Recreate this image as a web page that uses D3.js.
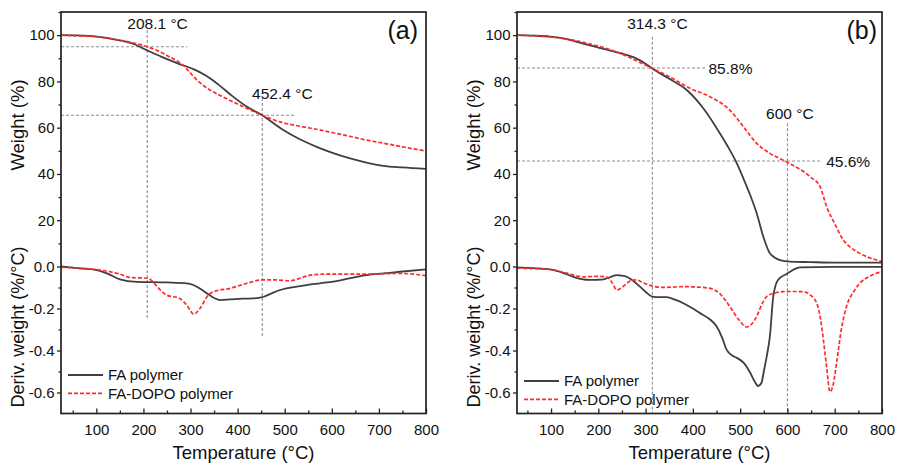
<!DOCTYPE html>
<html>
<head>
<meta charset="utf-8">
<script src="https://cdn.jsdelivr.net/npm/d3@7"></script>
<style>
  body { margin: 0; background: #fff; }
  svg text { font-family: "Liberation Sans", Arial, sans-serif; fill: #111; }
</style>
</head>
<body>
<div id="chart"></div>
<script>
// ---- data: [temperature °C, value] ----
var faWeightA = [[25,100],[60,99.9],[101,99.4],[144,98],[175,96.5],[206,93.6],[240,90.5],[278,87.4],[310,85],[335,82.2],[360,78.5],[391,73.3],[420,69],[452,65.4],[497,59],[530,55.2],[568,51.7],[600,49.2],[639,46.7],[680,44.6],[709,43.5],[750,42.8],[800,42.2]];
var dopoWeightA = [[25,100],[60,99.7],[108,99.1],[150,97.8],[180,96.6],[208,95],[230,93.3],[250,91.2],[268,89.2],[282,87.4],[298,84],[314,80.5],[330,77.8],[349,75.4],[370,73.2],[391,71.1],[420,68.3],[452,65.4],[490,62.5],[533,60.6],[570,59.2],[603,57.8],[640,56.2],[674,54.6],[710,53.3],[750,51.7],[800,49.9]];
var faDerivA = [[25,0],[60,-0.008],[101,-0.017],[125,-0.035],[150,-0.061],[186,-0.073],[250,-0.076],[292,-0.08],[306,-0.088],[320,-0.105],[335,-0.128],[350,-0.15],[363,-0.16],[384,-0.157],[410,-0.153],[434,-0.152],[455,-0.144],[470,-0.13],[490,-0.112],[533,-0.093],[575,-0.08],[603,-0.072],[640,-0.055],[674,-0.041],[710,-0.033],[745,-0.025],[800,-0.014]];
var dopoDerivA = [[25,-0.003],[60,-0.008],[108,-0.017],[140,-0.03],[150,-0.036],[171,-0.052],[210,-0.056],[220,-0.073],[235,-0.11],[249,-0.136],[277,-0.152],[292,-0.184],[307,-0.227],[320,-0.2],[335,-0.144],[349,-0.12],[384,-0.104],[420,-0.08],[451,-0.064],[480,-0.064],[511,-0.068],[530,-0.058],[547,-0.045],[575,-0.037],[603,-0.036],[674,-0.036],[745,-0.033],[800,-0.044]];

var faWeightB = [[28,100],[60,99.8],[98,99.4],[133,98.3],[168,96.3],[218,93.7],[245,92.3],[274,90.5],[295,88.3],[314,85.6],[352,80.9],[387,76.3],[422,68.4],[457,57.6],[478,50.4],[493,44.6],[507,38],[521,31],[535,23],[549,12.9],[563,5.7],[584,2.8],[605,2.1],[647,1.9],[700,1.7],[800,1.7]];
var dopoWeightB = [[28,100],[80,99.5],[133,98.4],[180,96.3],[239,92.7],[280,89],[314,85.6],[351,82],[394,77],[436,73.4],[478,67.6],[507,60.4],[535,53.2],[563,48.9],[600,45],[648,38.8],[669,34.5],[683,25.8],[700,18.5],[718,11.5],[732,8.5],[750,6],[767,4.3],[785,3],[800,2.2]];
var faDerivB = [[28,-0.004],[60,-0.008],[98,-0.014],[125,-0.03],[147,-0.049],[165,-0.06],[182,-0.064],[200,-0.063],[211,-0.061],[225,-0.05],[239,-0.041],[250,-0.043],[260,-0.049],[275,-0.07],[288,-0.096],[300,-0.12],[314,-0.143],[330,-0.146],[345,-0.146],[362,-0.158],[380,-0.175],[398,-0.198],[415,-0.222],[435,-0.25],[450,-0.285],[462,-0.34],[471,-0.395],[484,-0.425],[493,-0.435],[507,-0.458],[521,-0.505],[530,-0.545],[538,-0.569],[545,-0.555],[550,-0.5],[556,-0.43],[563,-0.33],[570,-0.143],[580,-0.064],[600,-0.033],[613,-0.015],[626,-0.004],[700,-0.002],[800,-0.002]];
var dopoDerivB = [[28,-0.008],[60,-0.01],[98,-0.014],[130,-0.03],[168,-0.049],[200,-0.047],[218,-0.05],[230,-0.08],[239,-0.112],[250,-0.1],[260,-0.08],[270,-0.066],[281,-0.064],[295,-0.078],[314,-0.093],[330,-0.099],[345,-0.099],[380,-0.096],[410,-0.098],[436,-0.104],[455,-0.125],[478,-0.19],[496,-0.25],[514,-0.288],[524,-0.275],[535,-0.238],[546,-0.18],[556,-0.143],[575,-0.125],[591,-0.12],[612,-0.119],[633,-0.12],[648,-0.135],[662,-0.175],[670,-0.25],[676,-0.348],[683,-0.48],[690,-0.597],[697,-0.56],[704,-0.458],[714,-0.3],[725,-0.19],[740,-0.12],[753,-0.08],[775,-0.045],[800,-0.025]];

var xTicks = [100, 200, 300, 400, 500, 600, 700, 800];
var xMinor = [50, 150, 250, 350, 450, 550, 650, 750];
var weightTicks = [20, 40, 60, 80, 100];
var weightMinor = [10, 30, 50, 70, 90, 110];
var derivTicks = [0, -0.2, -0.4, -0.6];
var derivMinor = [-0.1, -0.3, -0.5];
var seriesNames = ["FA polymer", "FA-DOPO polymer"];

// annotation guides, in data units
var guidesA = [
  { type: "v", t: 208.1, wTop: 102.2, dBottom: -0.246 },
  { type: "v", t: 452.4, wTop: 72.8, dBottom: -0.335 },
  { type: "h", w: 95, tEnd: 293 },
  { type: "h", w: 65.4, tEnd: 522 }
];
var labelsA = [
  { text: "208.1 °C", t: 230, w: 102.5, anchor: "middle" },
  { text: "452.4 °C", t: 495, w: 72.6, anchor: "middle" }
];
var guidesB = [
  { type: "v", t: 314.3, wTop: 99.3, dBottom: -0.7 },
  { type: "v", t: 600, wTop: 61.9, dBottom: -0.7 },
  { type: "h", w: 85.8, tEnd: 429 },
  { type: "h", w: 45.6, tEnd: 672 }
];
var labelsB = [
  { text: "314.3 °C", t: 325, w: 102.5, anchor: "middle" },
  { text: "85.8%", t: 433, w: 83.2, anchor: "start" },
  { text: "600 °C", t: 605, w: 63.7, anchor: "middle" },
  { text: "45.6%", t: 682, w: 43.1, anchor: "start" }
];

var svg = d3.select("#chart").append("svg")
  .attr("width", 901)
  .attr("height", 466);

var frameTop = 12, zeroY = 266.5, frameBottom = 413.5;

function drawPanel(p) {
  var g = svg.append("g");

  var xScale = d3.scaleLinear().domain(p.xDomain).range([p.left, p.right]);
  var yW = d3.scaleLinear().domain([0, 110]).range([zeroY, frameTop]);
  var yD = d3.scaleLinear().domain([-0.7, 0]).range([frameBottom, zeroY]);

  // guides
  p.guides.forEach(function (d) {
    var l = g.append("line")
      .attr("stroke", "#8f8f8f")
      .attr("stroke-width", 1.1)
      .attr("stroke-dasharray", "3,2");
    if (d.type == "v") {
      l.attr("x1", xScale(d.t)).attr("x2", xScale(d.t))
        .attr("y1", yW(d.wTop)).attr("y2", yD(d.dBottom));
    } else {
      l.attr("x1", p.left).attr("x2", xScale(d.tEnd))
        .attr("y1", yW(d.w)).attr("y2", yW(d.w));
    }
  });

  var lineW = d3.line()
    .x(function (d) { return xScale(d[0]); })
    .y(function (d) { return yW(d[1]); })
    .curve(d3.curveMonotoneX);
  var lineD = d3.line()
    .x(function (d) { return xScale(d[0]); })
    .y(function (d) { return yD(d[1]); })
    .curve(d3.curveMonotoneX);

  function addPath(data, line, red) {
    g.append("path")
      .datum(data)
      .attr("fill", "none")
      .attr("stroke", red ? "#ff2b2b" : "#3f3f3f")
      .attr("stroke-width", red ? 1.7 : 1.8)
      .attr("stroke-dasharray", red ? "4,2" : null)
      .attr("stroke-linejoin", "round")
      .attr("d", line);
  }
  addPath(p.faW, lineW, false);
  addPath(p.faD, lineD, false);
  addPath(p.dopoW, lineW, true);
  addPath(p.dopoD, lineD, true);

  // axes
  g.append("g")
    .attr("transform", "translate(0," + frameBottom + ")")
    .call(d3.axisBottom(xScale).tickValues(xTicks).tickSize(-5).tickPadding(11).tickSizeOuter(0));
  g.append("g")
    .attr("transform", "translate(0," + frameBottom + ")")
    .call(d3.axisBottom(xScale).tickValues(xMinor).tickSize(-3).tickFormat("").tickSizeOuter(0));
  g.append("g")
    .attr("transform", "translate(" + p.left + ",0)")
    .call(d3.axisLeft(yW).tickValues(weightTicks).tickSize(4).tickPadding(2.5).tickSizeOuter(0));
  g.append("g")
    .attr("transform", "translate(" + p.left + ",0)")
    .call(d3.axisLeft(yW).tickValues(weightMinor).tickSize(2.5).tickFormat("").tickSizeOuter(0));
  g.append("g")
    .attr("transform", "translate(" + p.left + ",0)")
    .call(d3.axisLeft(yD).tickValues(derivTicks).tickSize(4).tickPadding(2.5).tickSizeOuter(0)
      .tickFormat(function (d) { return d.toFixed(1); }));
  g.append("g")
    .attr("transform", "translate(" + p.left + ",0)")
    .call(d3.axisLeft(yD).tickValues(derivMinor).tickSize(2.5).tickFormat("").tickSizeOuter(0));

  g.selectAll(".domain").remove();
  g.selectAll(".tick line").attr("stroke", "#222").attr("stroke-width", 1.3);
  g.selectAll(".tick text")
    .style("font-size", "15px")
    .style("font-family", "'Liberation Sans', Arial, sans-serif")
    .attr("fill", "#111");

  // frame
  g.append("rect")
    .attr("x", p.left).attr("y", frameTop)
    .attr("width", p.right - p.left).attr("height", frameBottom - frameTop)
    .attr("fill", "none")
    .attr("stroke", "#222")
    .attr("stroke-width", 1.7);

  // annotation texts
  p.labels.forEach(function (d) {
    g.append("text")
      .attr("x", xScale(d.t)).attr("y", yW(d.w))
      .attr("text-anchor", d.anchor)
      .style("font-size", "15.5px")
      .text(d.text);
  });

  // panel tag
  g.append("text")
    .attr("x", p.right - p.tagPad).attr("y", 39)
    .attr("text-anchor", "end")
    .style("font-size", "25px")
    .text(p.tag);

  // titles
  g.append("text")
    .attr("x", (p.left + p.right) / 2).attr("y", 459)
    .attr("text-anchor", "middle")
    .style("font-size", "18.5px")
    .text("Temperature (°C)");
  g.append("text")
    .attr("transform", "translate(" + (p.left - 37) + ",125) rotate(-90)")
    .attr("text-anchor", "middle")
    .style("font-size", "18.5px")
    .text("Weight (%)");
  g.append("text")
    .attr("transform", "translate(" + (p.left - 37) + ",327) rotate(-90)")
    .attr("text-anchor", "middle")
    .style("font-size", "18px")
    .text("Deriv. weight (%/°C)");

  // legend
  seriesNames.forEach(function (name, i) {
    var y = p.legY + i * 18.3;
    g.append("line")
      .attr("x1", p.left + 7).attr("x2", p.left + 42)
      .attr("y1", y).attr("y2", y)
      .attr("stroke", i ? "#ff2b2b" : "#3f3f3f")
      .attr("stroke-width", i ? 1.7 : 1.8)
      .attr("stroke-dasharray", i ? "4,2" : null);
    g.append("text")
      .attr("x", p.left + 47).attr("y", y + 5.3)
      .style("font-size", "15px")
      .text(name);
  });
}

drawPanel({
  left: 61, right: 426, xDomain: [25, 800], tag: "(a)", tagPad: 8, legY: 375,
  faW: faWeightA, dopoW: dopoWeightA, faD: faDerivA, dopoD: dopoDerivA,
  guides: guidesA, labels: labelsA
});
drawPanel({
  left: 517, right: 882, xDomain: [28, 800], tag: "(b)", tagPad: 5, legY: 381,
  faW: faWeightB, dopoW: dopoWeightB, faD: faDerivB, dopoD: dopoDerivB,
  guides: guidesB, labels: labelsB
});
</script>
</body>
</html>
